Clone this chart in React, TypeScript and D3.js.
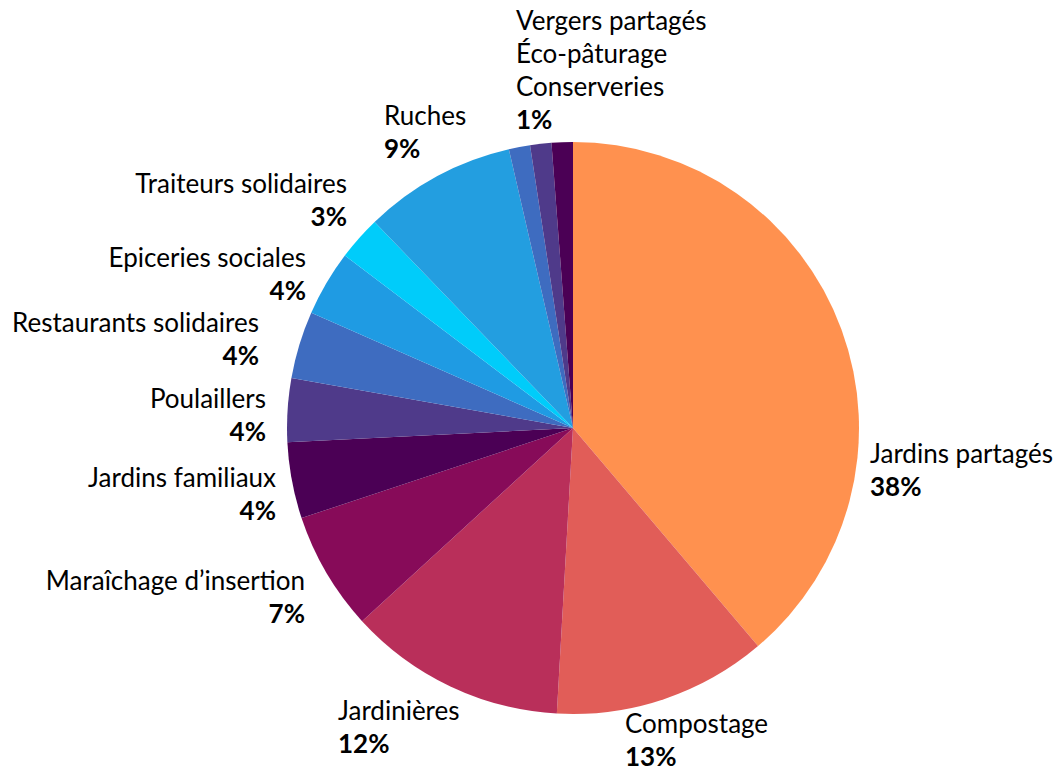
import React from "react";
import * as d3 from "d3";

const categories = [
  "Jardins partagés",
  "Compostage",
  "Jardinières",
  "Maraîchage d’insertion",
  "Jardins familiaux",
  "Poulaillers",
  "Restaurants solidaires",
  "Epiceries sociales",
  "Traiteurs solidaires",
  "Ruches",
  "Vergers partagés",
  "Éco-pâturage",
  "Conserveries",
];
const values = [38.8, 12.1, 12.3, 6.7, 4.3, 3.6, 3.8, 3.7, 2.5, 8.6, 1.2, 1.2, 1.2];
const percentLabels = ["38%", "13%", "12%", "7%", "4%", "4%", "4%", "4%", "3%", "9%", "1%", "1%", "1%"];
const colors = [
  "#FF914F", "#E15D58", "#B92F5A", "#870B59", "#4B0055", "#4F3A8A",
  "#3E6CC0", "#1F9BE3", "#00CCFA", "#239EE0", "#3E6CC0", "#4F3A8A", "#4B0055",
];

// label layout; grouped small slices share one label
const labelLayout: { lines: string[]; pct: string; x: number; y: number; anchor: string }[] = [
  { lines: [categories[0]], pct: percentLabels[0], x: 870, y: 463, anchor: "start" },
  { lines: [categories[1]], pct: percentLabels[1], x: 625, y: 733, anchor: "start" },
  { lines: [categories[2]], pct: percentLabels[2], x: 338, y: 720, anchor: "start" },
  { lines: [categories[3]], pct: percentLabels[3], x: 305, y: 590, anchor: "end" },
  { lines: [categories[4]], pct: percentLabels[4], x: 276, y: 487, anchor: "end" },
  { lines: [categories[5]], pct: percentLabels[5], x: 266, y: 408, anchor: "end" },
  { lines: [categories[6]], pct: percentLabels[6], x: 259, y: 332, anchor: "end" },
  { lines: [categories[7]], pct: percentLabels[7], x: 306, y: 267, anchor: "end" },
  { lines: [categories[8]], pct: percentLabels[8], x: 347, y: 193, anchor: "end" },
  { lines: [categories[9]], pct: percentLabels[9], x: 384, y: 125, anchor: "start" },
  { lines: [categories[10], categories[11], categories[12]], pct: percentLabels[10], x: 516, y: 30, anchor: "start" },
];

export default function App() {
  const width = 1059;
  const height = 771;
  const cx = 573;
  const cy = 428;
  const r = 286;
  const pie = d3.pie<number>().sort(null).value((d) => d);
  const arcs = pie(values);
  const arc = d3.arc<d3.PieArcDatum<number>>().innerRadius(0).outerRadius(r);
  const lineH = 33;
  return (
    <svg
      width={width}
      height={height}
      style={{ position: "absolute", left: 0, top: 0, background: "#fff" }}
      fontFamily="Lato, 'Open Sans', sans-serif"
    >
      <g transform={`translate(${cx},${cy})`}>
        {arcs.map((a, i) => (
          <path key={i} d={arc(a) || ""} fill={colors[i]} />
        ))}
      </g>
      {labelLayout.map((l, i) => (
        <text key={i} x={l.x} y={l.y} textAnchor={l.anchor} fontSize={26} fill="#000">
          {l.lines.map((ln, j) => (
            <tspan key={j} x={l.x} y={l.y + j * lineH}>
              {ln}
            </tspan>
          ))}
          <tspan x={l.x} y={l.y + l.lines.length * lineH} fontWeight="bold">
            {l.pct}
          </tspan>
        </text>
      ))}
    </svg>
  );
}
